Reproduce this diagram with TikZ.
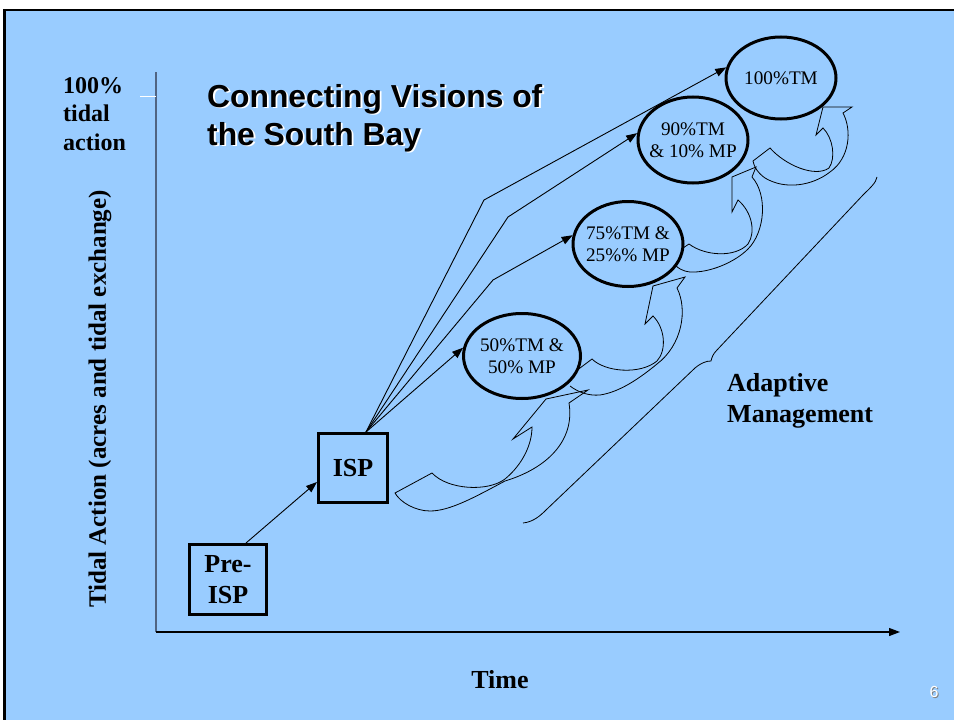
\documentclass[tikz,border=0pt]{standalone}
\usepackage{fontspec}
\setmainfont{Liberation Serif}
\newfontfamily\arialfont{Liberation Sans}
\usetikzlibrary{arrows.meta,shapes.geometric,calc}
\definecolor{bgblue}{HTML}{99CCFF}
\definecolor{axisgray}{RGB}{80,100,130}
\begin{document}
\begin{tikzpicture}[x=1pt,y=-1pt,
  conn/.style={line width=0.9pt,-{Triangle[length=11pt,width=8pt]}},
  box/.style={draw,line width=3pt,inner sep=0pt,align=center,
    font=\fontsize{26}{31}\selectfont\bfseries},
  oval/.style={ellipse,draw,line width=3pt,fill=bgblue,inner sep=0pt,
    minimum width=110pt,minimum height=85pt},
  ovtext/.style={align=center,inner sep=0pt,font=\fontsize{19.2}{21.5}\selectfont},
  cva/.style={line width=0.8pt,line join=miter},
  lbl/.style={inner sep=0pt,font=\fontsize{26}{31}\selectfont\bfseries},
  ttl/.style={inner sep=0pt,font=\arialfont\fontsize{31.8}{38}\selectfont\bfseries}
]
\useasboundingbox (0,0) rectangle (954,720);
\fill[white] (0,0) rectangle (954,720);
\fill[bgblue] (4.5,10) rectangle (954,720);
\draw[line width=2.5pt] (4.5,720) -- (4.5,10) -- (954,10);

% axes
\coordinate (ytop) at (156,72);
\coordinate (orig) at (156,632);
\coordinate (xend) at (900,632);
\coordinate (tick) at (140,96);
\coordinate (tickend) at (156,96);
\draw[axisgray,line width=1.5pt] (ytop) -- (orig);
\draw[line width=1.2pt,-{Triangle[length=11pt,width=8pt]}] (orig) -- (xend);
\draw[white,line width=1pt] (tick) -- (tickend);

% axis labels
\node[inner sep=0pt,anchor=base west,font=\fontsize{24}{29}\selectfont\bfseries] (h1) at (63,93) {100\%};
\node[inner sep=0pt,anchor=base west,font=\fontsize{24}{29}\selectfont\bfseries] (h2) at (63,121) {tidal};
\node[inner sep=0pt,anchor=base west,font=\fontsize{24}{29}\selectfont\bfseries] (h3) at (63,150) {action};
\node[rotate=90,inner sep=0pt,font=\fontsize{25}{30}\selectfont\bfseries] (ylab) at (100,399) {Tidal Action (acres and tidal exchange)};
\node[lbl,anchor=base] (time) at (500,688) {Time};

% title with shadow
\node[ttl,anchor=base west,text=white] (t1s) at (208.8,108.8) {Connecting Visions of};
\node[ttl,anchor=base west,text=white] (t2s) at (208.8,146.8) {the South Bay};
\node[ttl,anchor=base west] (t1) at (207,107) {Connecting Visions of};
\node[ttl,anchor=base west] (t2) at (207,145) {the South Bay};

% page number
\node[inner sep=0pt,anchor=base,text=gray,font=\arialfont\fontsize{16}{19}\selectfont] (pgs) at (935,698) {6};
\node[inner sep=0pt,anchor=base,text=white,font=\arialfont\fontsize{16}{19}\selectfont] (pg) at (934,697) {6};

% boxes
\node[box,minimum width=77pt,minimum height=70pt] (pre) at (228,579.5) {Pre-\\ISP};
\node[box,minimum width=69pt,minimum height=69pt] (isp) at (353,468) {ISP};

% curved block arrows (adaptive management)
\draw[cva] (395,493) -- (432,473) .. controls (448,490) and (488,492) .. (505,479)
  .. controls (522,465) and (532,445) .. (532,427) -- (513,439) -- (546,399) -- (588,390) -- (569,403)
  .. controls (575,440) and (548,468) .. (505,481)
  .. controls (475,497) and (450,511) .. (430,511)
  .. controls (415,511) and (400,502) .. (395,493) -- cycle;
\draw[cva] (572,374) -- (592,359) .. controls (605,372) and (640,375) .. (657,361)
  .. controls (667,350) and (665,328) .. (653,316) -- (645,324) -- (653,286) -- (685,277) -- (677,288)
  .. controls (688,310) and (682,345) .. (657,364)
  .. controls (640,378) and (620,392) .. (600,395)
  .. controls (588,396) and (578,392) .. (570,386);
\draw[cva] (680,250) -- (689,244) .. controls (705,256) and (735,258) .. (748,244)
  .. controls (756,232) and (752,212) .. (738,200) -- (732,212) -- (732,177) -- (756,167) -- (752,177)
  .. controls (768,195) and (765,232) .. (748,249)
  .. controls (735,262) and (710,273) .. (690,272)
  .. controls (682,271) and (678,268) .. (675,265);
\draw[cva] (753,161) -- (770,148) .. controls (785,165) and (815,178) .. (829,168)
  .. controls (836,158) and (833,138) .. (823,128) -- (816,135) -- (823,107) -- (852,107) -- (843,113)
  .. controls (852,130) and (850,158) .. (830,172)
  .. controls (812,186) and (785,190) .. (765,178)
  .. controls (758,173) and (754,167) .. (753,161) -- cycle;

% brace
\draw[line width=0.8pt] (523,523) .. controls (533,522) and (540,516) .. (546,510) -- (695,368)
  .. controls (701,363) and (706,361) .. (711,361)
  .. controls (712,357) and (713,354) .. (717,350) -- (863,195)
  .. controls (870,188) and (876,183) .. (877,177);
\node[lbl,anchor=base west] (am1) at (727,391) {Adaptive};
\node[lbl,anchor=base west] (am2) at (727,422) {Management};

% ellipses
\node[oval,minimum width=117pt] (e50) at (522,356) {};
\node[oval] (e75) at (628,244) {};
\node[oval,minimum height=86pt] (e90) at (693,140) {};
\node[oval,minimum height=82pt] (e100) at (781,78) {};
\node[ovtext] (e50t) at (e50) {50\%TM \&\\50\% MP};
\node[ovtext] (e75t) at (e75) {75\%TM \&\\25\%\% MP};
\node[ovtext] (e90t) at (e90) {90\%TM\\\& 10\% MP};
\node[ovtext] (e100t) at (e100) {100\%TM};

% connectors
\coordinate (src) at ([xshift=13pt]isp.north);
\coordinate (b75) at (493,280);
\coordinate (b90) at (508,217);
\coordinate (b100) at (484,200);
\draw[conn] ([xshift=18pt]pre.north) -- ([yshift=-14pt]isp.west);
\draw[conn] (src) -- (e50.172);
\draw[conn] (src) -- (b75) -- (e75.171);
\draw[conn] (src) -- (b90) -- (e90.173);
\draw[conn] (src) -- (b100) -- (e100.169);
\end{tikzpicture}
\end{document}
